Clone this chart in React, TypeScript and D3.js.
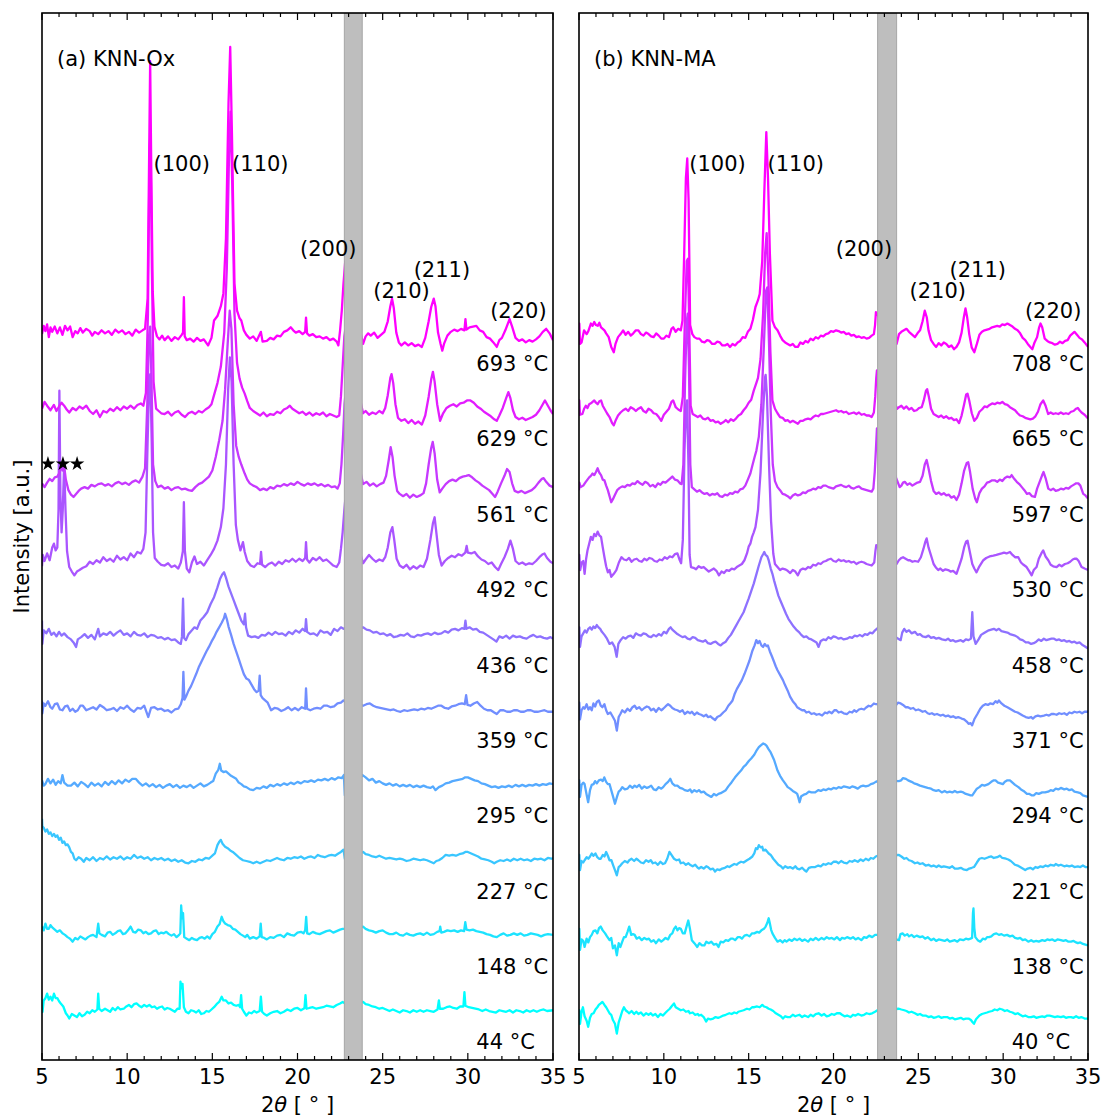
import { useEffect, useRef } from 'react';
import * as d3 from 'd3';

// temperature of each pattern, bottom to top
const tempsA = [44, 148, 227, 295, 359, 436, 492, 561, 629, 693];
const tempsB = [40, 138, 221, 294, 371, 458, 530, 597, 665, 708];

// flat [2theta, intensity] pairs; intensity in 1/100 of the stacking offset
const a44 = [5.0,0, 5.03,-6, 5.1,9, 5.2,12, 5.3,18, 5.4,10, 5.5,14, 5.6,9, 5.7,18, 5.8,12, 5.9,12, 6.0,8, 6.1,5, 6.25,1, 6.4,-8, 6.5,-11, 6.6,-15, 6.75,-9, 6.9,-11, 7.05,-13, 7.2,-8, 7.35,-12, 7.5,-10, 7.65,-6, 7.8,-8, 7.95,-4, 8.1,-6, 8.25,-3, 8.3,18, 8.36,-2, 8.5,-5, 8.7,-2, 8.85,-4, 9.0,-6, 9.15,-1, 9.3,-4, 9.45,0, 9.6,-3, 9.8,-2, 9.95,1, 10.1,3, 10.25,0, 10.4,4, 10.55,5, 10.7,2, 10.85,0, 11.0,3, 11.15,1, 11.3,3, 11.45,0, 11.6,1, 11.75,-2, 11.9,0, 12.05,1, 12.2,-3, 12.35,-1, 12.5,-2, 12.65,-4, 12.8,-6, 12.95,-2, 13.08,-2, 13.13,34, 13.2,25, 13.25,31, 13.33,0, 13.45,-6, 13.6,-8, 13.75,-4, 13.9,-5, 14.05,-7, 14.2,-4, 14.35,-9, 14.5,-8, 14.65,-5, 14.8,-6, 14.95,-3, 15.1,0, 15.25,4, 15.4,7, 15.55,14, 15.65,9, 15.8,9, 15.95,5, 16.1,6, 16.25,3, 16.4,2, 16.55,3, 16.63,0, 16.69,16, 16.75,-2, 16.85,-6, 17.0,-11, 17.15,-7, 17.3,-8, 17.45,-5, 17.6,-7, 17.78,-5, 17.85,14, 17.92,-6, 18.05,-9, 18.2,-11, 18.4,-8, 18.6,-6, 18.8,-5, 19.0,-8, 19.2,-6, 19.4,-3, 19.6,-5, 19.8,-2, 20.0,-1, 20.2,-4, 20.35,-2, 20.41,-1, 20.47,16, 20.53,-2, 20.7,-1, 20.9,0, 21.1,-2, 21.3,-1, 21.5,0, 21.7,2, 21.9,1, 22.1,0, 22.3,3, 22.5,5, 22.65,7, 22.8,5,
  23.85,7, 24.0,4, 24.2,3, 24.4,1, 24.6,0, 24.8,-2, 25.0,-1, 25.2,-3, 25.4,-5, 25.6,-3, 25.8,-5, 26.0,-7, 26.2,-4, 26.4,-5, 26.6,-7, 26.8,-4, 27.0,-6, 27.2,-4, 27.4,-6, 27.6,-4, 27.8,-5, 28.0,-6, 28.22,-3, 28.3,9, 28.36,-2, 28.55,-2, 28.75,0, 28.95,1, 29.15,-1, 29.35,-2, 29.55,1, 29.74,1, 29.8,20, 29.86,2, 30.05,0, 30.25,-1, 30.45,-2, 30.65,-3, 30.85,-5, 31.05,-3, 31.25,-5, 31.45,-6, 31.65,-7, 31.85,-4, 32.05,-5, 32.25,-6, 32.45,-4, 32.65,-7, 32.85,-4, 33.05,-5, 33.25,-7, 33.45,-4, 33.65,-6, 33.85,-4, 34.05,-6, 34.25,-4, 34.45,-3, 34.65,-5, 35.0,-4];
const a148 = [5.0,7, 5.1,2, 5.2,11, 5.3,4, 5.4,4, 5.5,9, 5.6,6, 5.75,3, 5.9,0, 6.05,2, 6.2,-2, 6.35,-4, 6.5,-7, 6.65,-9, 6.8,-13, 6.95,-8, 7.1,-10, 7.25,-6, 7.4,-8, 7.55,-10, 7.7,-7, 7.85,-5, 8.0,-4, 8.2,-7, 8.3,11, 8.37,-2, 8.5,-4, 8.7,-6, 8.85,-1, 9.0,0, 9.15,-4, 9.3,-2, 9.45,1, 9.6,2, 9.75,-3, 9.9,-2, 10.05,2, 10.2,7, 10.35,0, 10.5,-1, 10.65,3, 10.8,2, 10.95,-2, 11.1,0, 11.25,-3, 11.4,-2, 11.55,1, 11.7,2, 11.85,-3, 12.0,-1, 12.15,-2, 12.3,0, 12.45,-3, 12.6,-5, 12.75,-3, 12.9,-7, 13.05,-4, 13.12,-2, 13.17,35, 13.22,18, 13.28,25, 13.35,-7, 13.5,-9, 13.65,-11, 13.8,-8, 13.95,-10, 14.1,-11, 14.25,-8, 14.4,-7, 14.55,-9, 14.7,-6, 14.85,-9, 15.0,-3, 15.15,0, 15.3,7, 15.42,10, 15.55,20, 15.65,14, 15.75,11, 15.9,9, 16.05,8, 16.2,4, 16.35,3, 16.5,0, 16.65,-3, 16.8,-5, 16.93,-7, 17.05,-4, 17.2,-9, 17.4,-7, 17.6,-9, 17.78,-6, 17.84,11, 17.9,-7, 18.05,-8, 18.2,-10, 18.4,-7, 18.6,-8, 18.8,-5, 19.0,-4, 19.2,-7, 19.4,-2, 19.6,-4, 19.8,-5, 20.0,-1, 20.2,0, 20.35,-2, 20.45,2, 20.51,20, 20.57,-2, 20.7,-3, 20.9,0, 21.1,-2, 21.3,-3, 21.5,-1, 21.7,1, 21.9,2, 22.1,-1, 22.3,1, 22.5,3, 22.65,4, 22.8,4,
  23.85,7, 24.0,4, 24.2,2, 24.4,1, 24.6,-1, 24.8,1, 25.0,2, 25.2,-1, 25.4,-3, 25.6,-3, 25.8,-1, 26.0,-4, 26.2,-5, 26.4,-2, 26.6,-4, 26.8,-5, 27.0,-3, 27.2,-2, 27.4,-4, 27.6,-1, 27.8,-4, 28.0,-3, 28.2,0, 28.34,1, 28.38,7, 28.44,-1, 28.6,0, 28.8,2, 29.0,1, 29.2,2, 29.4,0, 29.6,2, 29.78,1, 29.85,13, 29.92,3, 30.1,2, 30.3,3, 30.5,1, 30.7,0, 30.9,-1, 31.1,-3, 31.3,-4, 31.5,-6, 31.7,-7, 31.9,-4, 32.1,-2, 32.3,-5, 32.5,-4, 32.7,-2, 32.9,-4, 33.1,-2, 33.3,-5, 33.5,-4, 33.7,-2, 33.9,-3, 34.1,-4, 34.3,-6, 34.5,-4, 34.7,-3, 35.0,-4];
const a227 = [5.0,50, 5.02,40, 5.1,38, 5.2,33, 5.3,36, 5.4,30, 5.5,32, 5.6,27, 5.7,30, 5.8,26, 5.9,28, 6.0,22, 6.1,25, 6.2,18, 6.3,20, 6.4,15, 6.5,16, 6.6,12, 6.7,6, 6.8,4, 6.9,-3, 7.0,-5, 7.15,-1, 7.3,-3, 7.45,-7, 7.6,-2, 7.8,-5, 8.0,-1, 8.2,-6, 8.4,-2, 8.6,-4, 8.8,0, 9.0,-4, 9.2,-1, 9.4,-3, 9.6,0, 9.8,-4, 10.0,-1, 10.2,-3, 10.4,2, 10.6,-2, 10.8,0, 11.0,-3, 11.2,-1, 11.4,-5, 11.6,-2, 11.8,-4, 12.0,-2, 12.2,-5, 12.4,-3, 12.6,-6, 12.8,-4, 13.0,-7, 13.2,-5, 13.4,-8, 13.6,-9, 13.8,-6, 14.0,-7, 14.2,-4, 14.4,-5, 14.6,-2, 14.8,-3, 15.0,1, 15.15,4, 15.3,15, 15.42,20, 15.5,22, 15.6,17, 15.75,13, 15.9,11, 16.05,8, 16.2,6, 16.4,2, 16.6,-2, 16.8,-5, 17.0,-6, 17.2,-7, 17.4,-9, 17.6,-7, 17.8,-9, 18.0,-7, 18.2,-5, 18.4,-6, 18.6,-4, 18.8,-2, 19.0,-4, 19.2,-5, 19.4,-2, 19.6,-3, 19.8,-1, 20.0,-2, 20.2,0, 20.4,-3, 20.6,-1, 20.8,0, 21.0,-2, 21.2,2, 21.4,0, 21.6,-1, 21.8,1, 22.0,2, 22.2,1, 22.4,4, 22.55,6, 22.7,9, 22.78,-3,
  23.85,6, 24.0,3, 24.2,2, 24.4,0, 24.6,-1, 24.8,1, 25.0,-1, 25.2,-3, 25.4,-2, 25.6,-3, 25.8,-4, 26.0,-3, 26.2,-4, 26.4,-6, 26.6,-5, 26.8,-3, 27.0,-4, 27.2,-5, 27.4,-4, 27.6,-5, 27.8,-7, 28.0,-9, 28.15,-6, 28.3,-5, 28.5,-2, 28.7,2, 28.9,1, 29.1,2, 29.3,1, 29.5,3, 29.7,4, 29.85,6, 30.0,6, 30.2,4, 30.4,2, 30.6,0, 30.8,-3, 31.0,-4, 31.2,-5, 31.4,-7, 31.55,-9, 31.7,-7, 31.9,-5, 32.1,-6, 32.3,-4, 32.5,-6, 32.7,-3, 32.9,-5, 33.1,-3, 33.3,-5, 33.5,-4, 33.7,-6, 33.9,-3, 34.1,-4, 34.3,-3, 34.5,-5, 34.7,-2, 34.9,-3, 35.0,-2];
const a295 = [5.0,1, 5.1,-6, 5.2,-4, 5.35,3, 5.5,-3, 5.65,2, 5.8,-5, 5.95,0, 6.1,-3, 6.2,8, 6.3,-2, 6.5,-6, 6.7,-6, 6.9,-2, 7.1,-7, 7.3,-1, 7.5,-4, 7.7,-8, 7.9,-2, 8.1,-6, 8.3,-3, 8.5,-7, 8.7,-1, 8.9,-5, 9.1,0, 9.3,-4, 9.5,1, 9.7,-3, 9.9,2, 10.1,-1, 10.3,3, 10.5,3, 10.7,-2, 10.9,-6, 11.1,-3, 11.3,-7, 11.5,-4, 11.7,-8, 11.9,-5, 12.1,-9, 12.3,-6, 12.5,-4, 12.7,-8, 12.9,-5, 13.1,-9, 13.3,-6, 13.5,-8, 13.7,-5, 13.9,-9, 14.1,-6, 14.3,-3, 14.5,-7, 14.7,-5, 14.9,-2, 15.05,0, 15.2,10, 15.35,15, 15.44,23, 15.52,14, 15.65,12, 15.8,13, 15.95,10, 16.1,7, 16.25,5, 16.4,3, 16.55,-2, 16.7,-4, 16.85,-7, 17.0,-8, 17.2,-11, 17.4,-12, 17.6,-9, 17.8,-10, 18.0,-7, 18.2,-9, 18.4,-5, 18.6,-7, 18.8,-4, 19.0,-6, 19.2,-3, 19.4,-5, 19.6,-2, 19.8,-4, 20.0,-1, 20.2,-3, 20.4,0, 20.6,-1, 20.8,1, 21.0,-1, 21.2,2, 21.4,1, 21.6,3, 21.8,1, 22.0,4, 22.2,2, 22.4,5, 22.6,4, 22.72,8, 22.78,-19,
  23.82,8, 24.0,5, 24.2,1, 24.4,3, 24.6,-2, 24.8,0, 25.0,-3, 25.2,-5, 25.4,-3, 25.6,-6, 25.8,-4, 26.0,-7, 26.2,-5, 26.4,-7, 26.6,-5, 26.8,-8, 27.0,-6, 27.2,-8, 27.4,-6, 27.6,-8, 27.8,-9, 27.95,-7, 28.1,-12, 28.3,-8, 28.5,-6, 28.7,-3, 28.9,-2, 29.1,0, 29.3,1, 29.5,2, 29.7,3, 29.85,5, 30.0,5, 30.2,3, 30.4,1, 30.6,0, 30.8,-3, 31.0,-4, 31.2,-6, 31.4,-8, 31.6,-7, 31.8,-9, 32.0,-7, 32.2,-8, 32.4,-6, 32.6,-8, 32.8,-5, 33.0,-7, 33.2,-5, 33.4,-7, 33.6,-5, 33.8,-6, 34.0,-4, 34.2,-6, 34.4,-4, 34.6,-5, 34.8,-3, 35.0,-4];
const a359 = [5.0,7, 5.02,-10, 5.1,3, 5.2,0, 5.35,6, 5.5,-2, 5.6,-4, 5.75,2, 5.9,3, 6.05,-5, 6.2,-6, 6.35,-1, 6.5,0, 6.65,-7, 6.8,-4, 6.95,-8, 7.1,-6, 7.25,0, 7.4,0, 7.6,-6, 7.8,-4, 8.0,-2, 8.2,-5, 8.4,1, 8.6,-2, 8.8,-6, 9.0,-5, 9.2,-3, 9.4,-7, 9.6,-2, 9.8,-4, 10.0,0, 10.2,-5, 10.4,-8, 10.6,-3, 10.8,-4, 11.0,0, 11.24,-15, 11.4,-3, 11.6,-2, 11.8,-5, 12.0,-4, 12.2,-7, 12.4,-6, 12.6,-9, 12.8,-5, 13.0,-4, 13.15,2, 13.25,10, 13.3,45, 13.36,8, 13.45,12, 13.6,20, 13.75,26, 13.9,34, 14.05,42, 14.2,51, 14.35,58, 14.5,65, 14.65,72, 14.8,78, 14.95,85, 15.1,91, 15.25,98, 15.4,104, 15.55,110, 15.68,116, 15.75,122, 15.85,115, 15.95,105, 16.1,94, 16.25,82, 16.4,72, 16.55,62, 16.7,52, 16.85,42, 17.0,36, 17.15,34, 17.3,28, 17.45,22, 17.6,18, 17.72,20, 17.78,40, 17.84,14, 17.95,10, 18.1,7, 18.25,4, 18.45,-6, 18.65,-3, 18.85,-4, 19.05,-7, 19.25,-5, 19.45,-2, 19.65,-6, 19.85,-3, 20.05,-6, 20.25,-2, 20.45,-4, 20.5,23, 20.56,-4, 20.75,-6, 20.95,-4, 21.15,-3, 21.35,-4, 21.55,0, 21.75,0, 21.95,-2, 22.15,-1, 22.35,3, 22.55,4, 22.7,7, 22.8,5,
  23.85,0, 24.05,2, 24.25,3, 24.45,0, 24.65,-2, 24.85,-3, 25.05,-4, 25.25,-5, 25.45,-6, 25.65,-5, 25.85,-7, 26.05,-8, 26.25,-6, 26.45,-7, 26.65,-6, 26.85,-5, 27.05,-6, 27.25,-4, 27.45,-5, 27.65,-3, 27.85,-4, 28.05,-2, 28.25,0, 28.45,0, 28.65,-3, 28.85,-4, 29.05,-1, 29.25,0, 29.45,2, 29.65,3, 29.82,2, 29.9,14, 29.98,1, 30.15,0, 30.35,3, 30.55,5, 30.75,0, 30.95,-4, 31.15,-6, 31.35,-6, 31.55,-9, 31.7,-11, 31.9,-6, 32.1,-6, 32.3,-8, 32.5,-8, 32.7,-6, 32.9,-6, 33.1,-8, 33.3,-8, 33.5,-6, 33.7,-6, 33.9,-8, 34.1,-8, 34.3,-7, 34.5,-6, 34.7,-8, 35.0,-8];
const a436 = [5.0,13, 5.02,-18, 5.1,0, 5.25,-4, 5.4,2, 5.55,-6, 5.7,-3, 5.85,-8, 6.0,-2, 6.15,-7, 6.3,-4, 6.5,-9, 6.7,-12, 6.85,-16, 7.0,-22, 7.1,-12, 7.3,-9, 7.5,-5, 7.7,-10, 7.9,-6, 8.1,-12, 8.3,2, 8.4,-8, 8.6,-4, 8.8,-6, 9.0,-2, 9.2,-7, 9.4,-3, 9.6,0, 9.8,-6, 10.0,-4, 10.2,-8, 10.4,-2, 10.6,-6, 10.8,-7, 11.0,-4, 11.2,-9, 11.4,-6, 11.6,-7, 11.8,-10, 12.0,-9, 12.2,-12, 12.4,-10, 12.6,-13, 12.8,-12, 13.0,-16, 13.15,-18, 13.22,-8, 13.28,42, 13.34,-10, 13.45,-13, 13.6,-5, 13.8,0, 13.95,4, 14.1,2, 14.3,13, 14.5,18, 14.7,24, 14.9,35, 15.1,44, 15.3,57, 15.45,68, 15.58,74, 15.69,77, 15.8,70, 15.95,58, 16.1,49, 16.25,40, 16.4,31, 16.55,22, 16.7,13, 16.85,8, 16.92,22, 16.98,4, 17.1,-7, 17.3,-9, 17.5,-8, 17.7,-10, 17.9,-6, 18.1,-7, 18.3,-3, 18.5,-6, 18.7,-2, 18.9,-5, 19.1,-4, 19.3,-7, 19.5,-2, 19.7,-5, 19.9,0, 20.1,-3, 20.3,2, 20.45,-1, 20.5,15, 20.56,-2, 20.75,-5, 20.95,-4, 21.15,-7, 21.35,0, 21.55,-3, 21.75,-2, 21.95,-6, 22.15,2, 22.35,-1, 22.55,4, 22.7,2, 22.8,3,
  23.85,4, 24.05,1, 24.25,0, 24.45,-3, 24.65,-2, 24.85,-5, 25.05,-4, 25.25,-7, 25.45,-5, 25.65,-9, 25.85,-8, 26.05,-6, 26.25,-7, 26.45,-4, 26.65,-8, 26.85,-9, 27.05,-6, 27.25,-7, 27.45,-5, 27.65,-4, 27.85,-6, 28.05,-3, 28.25,-5, 28.45,-4, 28.65,-1, 28.85,-3, 29.05,1, 29.25,2, 29.45,0, 29.65,3, 29.8,2, 29.86,13, 29.92,2, 30.1,4, 30.3,1, 30.5,2, 30.7,-2, 30.9,-3, 31.1,-6, 31.3,-9, 31.5,-12, 31.68,-15, 31.85,-8, 32.05,-10, 32.25,-7, 32.45,-11, 32.65,-7, 32.85,-9, 33.05,-8, 33.25,-10, 33.45,-11, 33.65,-8, 33.85,-6, 34.05,-9, 34.25,-8, 34.45,-10, 34.65,-11, 34.85,-9, 35.0,-11];
const a492 = [5.0,-15, 5.05,0, 5.15,-8, 5.3,2, 5.45,-7, 5.6,10, 5.7,15, 5.8,6, 5.9,10, 5.97,60, 6.02,218, 6.08,80, 6.15,30, 6.22,60, 6.3,121, 6.38,60, 6.47,5, 6.6,-16, 6.75,-22, 6.9,-27, 7.05,-22, 7.2,-20, 7.4,-17, 7.6,-15, 7.8,-9, 8.0,-12, 8.2,-7, 8.4,-10, 8.6,-3, 8.8,-8, 9.0,-5, 9.2,-9, 9.4,-1, 9.6,-6, 9.8,-3, 10.0,-7, 10.2,2, 10.4,-3, 10.6,4, 10.8,2, 10.95,8, 11.08,30, 11.2,150, 11.3,235, 11.36,240, 11.44,150, 11.52,30, 11.62,-4, 11.8,-9, 12.0,-13, 12.2,-14, 12.4,-11, 12.6,-16, 12.8,-14, 13.0,-18, 13.15,-10, 13.27,5, 13.33,70, 13.39,5, 13.5,-18, 13.65,-23, 13.8,-10, 13.95,-2, 14.1,-12, 14.3,-9, 14.5,-14, 14.7,-7, 14.9,0, 15.1,8, 15.3,19, 15.5,37, 15.65,62, 15.8,120, 15.93,220, 16.03,262, 16.13,230, 16.25,120, 16.38,40, 16.5,20, 16.65,6, 16.8,17, 16.9,4, 17.05,-8, 17.25,-14, 17.45,-16, 17.65,-11, 17.8,-12, 17.86,4, 17.92,-13, 18.1,-16, 18.3,-12, 18.5,-10, 18.7,-14, 18.9,-9, 19.1,-12, 19.3,-7, 19.5,-9, 19.7,-5, 19.9,-9, 20.1,-5, 20.3,-8, 20.45,-4, 20.5,17, 20.56,-6, 20.7,-10, 20.9,-4, 21.1,-7, 21.3,-3, 21.5,-8, 21.7,-6, 21.9,-10, 22.1,-14, 22.3,-16, 22.45,-10, 22.55,8, 22.65,30, 22.75,60, 22.8,72,
  23.85,-11, 24.0,-6, 24.2,0, 24.4,-5, 24.6,-9, 24.8,-6, 25.0,-8, 25.15,-3, 25.3,10, 25.45,30, 25.57,37, 25.68,20, 25.82,-5, 26.0,-14, 26.2,-17, 26.4,-13, 26.6,-19, 26.8,-15, 27.0,-18, 27.2,-14, 27.4,-16, 27.6,-5, 27.8,20, 27.95,42, 28.05,50, 28.15,30, 28.3,0, 28.46,-14, 28.65,-8, 28.85,-4, 29.05,-1, 29.25,-3, 29.45,1, 29.65,-1, 29.85,3, 29.93,12, 30.0,3, 30.2,2, 30.4,4, 30.6,-2, 30.8,-6, 31.0,-8, 31.2,-12, 31.4,-10, 31.6,-16, 31.79,-20, 31.95,-12, 32.15,-3, 32.35,8, 32.5,19, 32.65,8, 32.8,-8, 33.0,-12, 33.2,-10, 33.4,-13, 33.6,-11, 33.8,-12, 34.0,-8, 34.2,-3, 34.4,1, 34.5,2, 34.65,-4, 34.85,-9, 35.0,-11];
const a561 = [5.0,-5, 5.15,-10, 5.3,-4, 5.45,1, 5.6,-2, 5.75,3, 5.9,4, 6.0,8, 6.1,18, 6.2,12, 6.3,18, 6.4,0, 6.55,-14, 6.7,-20, 6.85,-23, 7.0,-19, 7.15,-15, 7.3,-12, 7.5,-10, 7.7,-12, 7.9,-7, 8.1,-9, 8.3,-6, 8.5,-5, 8.7,-8, 8.9,-6, 9.1,-9, 9.3,-5, 9.5,-3, 9.7,-6, 9.9,-4, 10.1,-7, 10.3,-3, 10.5,-1, 10.7,-4, 10.9,4, 11.05,15, 11.18,100, 11.28,190, 11.35,203, 11.43,130, 11.52,20, 11.65,-2, 11.8,-10, 12.0,-8, 12.2,-12, 12.4,-10, 12.6,-14, 12.8,-11, 13.0,-10, 13.2,-13, 13.4,-12, 13.6,-14, 13.8,-15, 14.0,-10, 14.2,-6, 14.4,-4, 14.6,0, 14.8,4, 15.0,12, 15.2,30, 15.4,52, 15.6,78, 15.75,120, 15.9,180, 16.02,224, 16.12,200, 16.25,100, 16.4,45, 16.55,30, 16.7,20, 16.9,8, 17.05,0, 17.2,-5, 17.4,-8, 17.6,-10, 17.8,-14, 18.0,-12, 18.2,-14, 18.4,-10, 18.6,-12, 18.8,-8, 19.0,-9, 19.2,-6, 19.4,-8, 19.6,-5, 19.8,-7, 20.0,-3, 20.2,-6, 20.4,-8, 20.6,-5, 20.8,-7, 21.0,-5, 21.2,-8, 21.4,-6, 21.6,-9, 21.8,-7, 22.0,-10, 22.2,-9, 22.35,-12, 22.48,-5, 22.58,20, 22.68,60, 22.76,100, 22.8,109,
  23.85,-6, 24.05,-3, 24.25,-8, 24.45,-5, 24.65,-9, 24.85,-6, 25.05,-4, 25.2,5, 25.35,25, 25.47,43, 25.58,30, 25.7,5, 25.85,-15, 26.0,-19, 26.2,-22, 26.4,-19, 26.6,-24, 26.8,-20, 27.0,-23, 27.2,-21, 27.4,-18, 27.55,-5, 27.7,20, 27.85,42, 27.94,50, 28.05,35, 28.2,0, 28.35,-17, 28.5,-12, 28.7,-6, 28.9,-2, 29.1,0, 29.3,-2, 29.5,2, 29.7,4, 29.9,5, 30.05,6, 30.25,3, 30.45,-1, 30.65,-4, 30.85,-8, 31.05,-11, 31.25,-14, 31.45,-19, 31.6,-23, 31.75,-16, 31.95,-5, 32.15,5, 32.3,14, 32.45,10, 32.6,-5, 32.75,-15, 32.95,-17, 33.15,-15, 33.35,-18, 33.55,-16, 33.75,-14, 33.95,-10, 34.15,-4, 34.35,1, 34.45,2, 34.6,-3, 34.8,-8, 35.0,-10];
const a629 = [5.0,-6, 5.15,3, 5.3,-2, 5.5,-8, 5.7,-1, 5.85,-9, 6.0,-3, 6.15,2, 6.3,-2, 6.45,-7, 6.6,-11, 6.8,-5, 7.0,-8, 7.2,-3, 7.4,-6, 7.6,-2, 7.8,-9, 8.0,-13, 8.2,-8, 8.4,-17, 8.6,-9, 8.8,-11, 9.0,-6, 9.2,-9, 9.4,-4, 9.6,-8, 9.8,-3, 10.0,-6, 10.2,-2, 10.4,-6, 10.6,-1, 10.8,1, 10.95,-2, 11.1,15, 11.22,120, 11.32,340, 11.37,360, 11.45,180, 11.55,30, 11.7,-6, 11.85,-9, 12.0,-12, 12.2,-13, 12.4,-10, 12.6,-15, 12.8,-11, 13.0,-9, 13.2,-14, 13.4,-17, 13.6,-12, 13.8,-10, 14.0,-13, 14.2,-9, 14.4,-11, 14.6,-7, 14.8,-4, 14.95,0, 15.1,12, 15.3,28, 15.5,50, 15.7,95, 15.85,180, 15.98,330, 16.07,388, 16.17,290, 16.3,120, 16.45,55, 16.6,34, 16.75,22, 16.9,14, 17.05,4, 17.2,-5, 17.4,-9, 17.6,-12, 17.8,-15, 18.0,-11, 18.2,-16, 18.4,-13, 18.6,-14, 18.8,-10, 19.0,-12, 19.2,-7, 19.4,-5, 19.55,-2, 19.7,-6, 19.9,-9, 20.1,-12, 20.3,-10, 20.5,-14, 20.7,-11, 20.9,-15, 21.1,-12, 21.3,-14, 21.5,-11, 21.7,-16, 21.9,-13, 22.1,-15, 22.3,-17, 22.45,-15, 22.55,10, 22.65,50, 22.75,90, 22.8,98,
  23.85,-12, 24.0,-9, 24.2,-14, 24.4,-11, 24.6,-13, 24.8,-9, 25.0,-12, 25.15,-5, 25.3,12, 25.45,35, 25.52,40, 25.62,28, 25.75,0, 25.9,-18, 26.1,-22, 26.3,-20, 26.5,-25, 26.7,-21, 26.9,-26, 27.1,-23, 27.3,-27, 27.5,-15, 27.7,10, 27.85,33, 27.95,43, 28.05,30, 28.2,0, 28.37,-22, 28.55,-12, 28.75,-5, 28.95,-2, 29.15,0, 29.35,-3, 29.55,1, 29.75,2, 29.95,5, 30.15,5, 30.35,2, 30.55,-3, 30.75,-6, 30.95,-10, 31.15,-13, 31.35,-16, 31.55,-20, 31.7,-22, 31.85,-15, 32.05,-5, 32.25,8, 32.38,16, 32.5,8, 32.65,-8, 32.8,-17, 33.0,-20, 33.2,-18, 33.4,-21, 33.6,-19, 33.8,-17, 34.0,-14, 34.2,-8, 34.4,0, 34.53,5, 34.7,-2, 34.85,-8, 35.0,-13];
const a693 = [5.0,-7, 5.1,4, 5.2,-3, 5.3,6, 5.4,-11, 5.5,2, 5.6,-4, 5.75,3, 5.9,-6, 6.05,2, 6.2,-8, 6.35,4, 6.5,-2, 6.65,3, 6.8,-11, 6.95,-3, 7.1,-6, 7.25,1, 7.4,-5, 7.6,0, 7.8,-3, 7.95,-9, 8.1,-4, 8.3,-7, 8.5,-2, 8.7,-6, 8.9,-3, 9.1,-8, 9.3,-1, 9.5,-5, 9.7,-2, 9.9,-7, 10.1,-4, 10.3,-9, 10.5,-1, 10.7,-5, 10.9,-2, 11.05,0, 11.2,40, 11.3,250, 11.35,355, 11.42,200, 11.5,50, 11.6,3, 11.75,-10, 11.9,-14, 12.05,-9, 12.2,-15, 12.4,-10, 12.6,-16, 12.8,-11, 13.0,-14, 13.2,-8, 13.28,-5, 13.33,42, 13.38,-10, 13.5,-15, 13.7,-13, 13.9,-17, 14.1,-12, 14.3,-16, 14.5,-14, 14.75,-22, 14.95,-12, 15.1,11, 15.3,17, 15.5,30, 15.65,47, 15.8,120, 15.95,300, 16.05,374, 16.15,260, 16.3,60, 16.45,24, 16.6,14, 16.7,11, 16.85,-2, 17.0,-8, 17.2,-13, 17.4,-10, 17.6,-16, 17.85,-4, 17.95,-17, 18.2,-16, 18.4,-12, 18.6,-14, 18.8,-9, 19.0,-10, 19.2,-4, 19.4,-2, 19.6,2, 19.75,-2, 19.9,-5, 20.1,-3, 20.3,-7, 20.45,-4, 20.5,15, 20.56,-6, 20.7,-9, 20.9,-7, 21.1,-11, 21.3,-10, 21.5,-13, 21.7,-11, 21.9,-15, 22.1,-13, 22.3,-17, 22.4,-22, 22.5,-2, 22.6,24, 22.7,60, 22.8,89,
  23.85,-20, 24.0,-10, 24.15,-6, 24.3,-9, 24.5,-5, 24.7,-12, 24.9,-8, 25.1,-4, 25.3,10, 25.45,30, 25.55,40, 25.65,28, 25.8,-5, 25.95,-18, 26.1,-22, 26.3,-18, 26.5,-22, 26.7,-19, 26.9,-23, 27.1,-21, 27.3,-24, 27.5,-12, 27.7,10, 27.85,29, 28.0,40, 28.1,30, 28.25,-5, 28.4,-20, 28.5,-29, 28.6,-20, 28.8,-9, 29.0,-4, 29.2,-1, 29.4,-3, 29.6,0, 29.8,-2, 29.86,13, 29.92,-1, 30.1,2, 30.3,3, 30.5,4, 30.7,-2, 30.9,-4, 31.1,-11, 31.3,-13, 31.5,-18, 31.7,-24, 31.85,-15, 32.0,-12, 32.2,-2, 32.45,13, 32.6,3, 32.8,-12, 33.0,-16, 33.2,-14, 33.4,-18, 33.6,-15, 33.8,-17, 34.0,-14, 34.2,-10, 34.4,-4, 34.6,0, 34.8,-6, 35.0,-15];

const b40 = [5.0,-17, 5.02,-4, 5.06,-22, 5.15,-6, 5.23,0, 5.33,-12, 5.45,-18, 5.54,-26, 5.65,-14, 5.75,-9, 5.86,-8, 5.97,-3, 6.08,0, 6.17,3, 6.28,5, 6.38,7, 6.5,3, 6.6,0, 6.7,-4, 6.8,-8, 6.9,-10, 7.0,-17, 7.12,-22, 7.23,-35, 7.34,-20, 7.44,-13, 7.55,-5, 7.65,0, 7.75,-4, 7.86,-6, 7.96,-8, 8.1,-5, 8.25,-9, 8.38,-6, 8.5,-9, 8.65,-7, 8.8,-11, 8.95,-8, 9.1,-10, 9.23,-8, 9.35,-11, 9.5,-9, 9.65,-13, 9.8,-9, 9.95,-11, 10.07,-8, 10.2,-5, 10.35,-2, 10.45,1, 10.6,5, 10.7,0, 10.85,-2, 11.0,-4, 11.15,-3, 11.3,-6, 11.45,-5, 11.54,-8, 11.7,-7, 11.85,-10, 12.0,-9, 12.07,-11, 12.2,-10, 12.35,-13, 12.49,-19, 12.6,-15, 12.75,-16, 12.91,-15, 13.05,-13, 13.2,-14, 13.33,-13, 13.5,-11, 13.65,-10, 13.86,-8, 14.0,-9, 14.15,-7, 14.3,-8, 14.39,-6, 14.55,-5, 14.7,-4, 14.9,-2, 15.05,-3, 15.2,0, 15.33,0, 15.5,1, 15.65,0, 15.8,3, 15.9,1, 16.05,0, 16.18,-2, 16.3,-3, 16.45,-5, 16.6,-8, 16.75,-10, 16.9,-12, 17.02,-15, 17.15,-12, 17.3,-13, 17.44,-13, 17.6,-10, 17.75,-12, 17.86,-11, 18.0,-10, 18.15,-13, 18.3,-11, 18.5,-13, 18.65,-10, 18.8,-12, 18.95,-9, 19.12,-8, 19.3,-11, 19.45,-9, 19.6,-12, 19.75,-11, 19.9,-9, 20.05,-10, 20.2,-8, 20.38,-8, 20.5,-10, 20.65,-12, 20.8,-11, 21.0,-13, 21.15,-10, 21.3,-11, 21.45,-9, 21.64,-11, 21.8,-10, 21.95,-8, 22.1,-9, 22.28,-8, 22.45,-6, 22.59,-4,
  23.86,-2, 24.0,-3, 24.17,-4, 24.3,-5, 24.45,-7, 24.6,-6, 24.8,-8, 24.95,-10, 25.1,-9, 25.25,-11, 25.43,-11, 25.6,-13, 25.75,-12, 25.9,-14, 26.07,-13, 26.2,-12, 26.35,-14, 26.5,-13, 26.7,-13, 26.85,-15, 27.0,-14, 27.15,-16, 27.33,-15, 27.5,-14, 27.65,-16, 27.8,-15, 27.96,-15, 28.1,-17, 28.2,-20, 28.28,-22, 28.4,-16, 28.6,-11, 28.75,-9, 28.9,-8, 29.05,-7, 29.17,-6, 29.35,-5, 29.5,-3, 29.65,-4, 29.8,-2, 29.95,-3, 30.1,-5, 30.23,-4, 30.4,-6, 30.55,-7, 30.7,-9, 30.86,-8, 31.0,-10, 31.15,-12, 31.3,-11, 31.48,-13, 31.65,-13, 31.8,-12, 31.95,-14, 32.1,-13, 32.3,-12, 32.45,-13, 32.6,-11, 32.74,-11, 32.9,-12, 33.05,-13, 33.2,-12, 33.4,-13, 33.55,-12, 33.7,-14, 33.85,-13, 34.0,-13, 34.15,-14, 34.3,-12, 34.45,-14, 34.6,-13, 34.8,-15, 35.0,-15];
const b138 = [5.0,-2, 5.02,4, 5.06,-24, 5.15,-10, 5.25,-12, 5.33,-20, 5.45,-9, 5.55,-14, 5.65,-7, 5.75,-4, 5.85,1, 5.97,2, 6.08,-2, 6.18,5, 6.28,7, 6.4,2, 6.54,-2, 6.65,-6, 6.8,-11, 6.9,-8, 7.0,-22, 7.12,-18, 7.23,-31, 7.34,-15, 7.44,-20, 7.55,-13, 7.65,-7, 7.75,-7, 7.86,0, 7.96,7, 8.08,-4, 8.18,-3, 8.28,-4, 8.4,-9, 8.55,-7, 8.7,-11, 8.85,-8, 9.0,-10, 9.12,-9, 9.25,-13, 9.4,-11, 9.54,-15, 9.7,-10, 9.85,-13, 9.96,-11, 10.1,-8, 10.25,-10, 10.38,-4, 10.5,-2, 10.6,4, 10.7,7, 10.8,2, 10.9,5, 11.0,4, 11.12,-2, 11.23,-2, 11.35,8, 11.44,15, 11.54,4, 11.65,-11, 11.8,-15, 11.97,-20, 12.1,-15, 12.25,-18, 12.39,-18, 12.5,-13, 12.65,-15, 12.8,-13, 12.95,-17, 13.1,-16, 13.22,-20, 13.35,-13, 13.5,-14, 13.65,-11, 13.8,-12, 13.95,-9, 14.07,-9, 14.2,-11, 14.35,-7, 14.49,-7, 14.6,-9, 14.75,-5, 14.9,-4, 15.05,-6, 15.2,-2, 15.33,-2, 15.5,0, 15.62,-1, 15.75,2, 15.9,4, 16.0,7, 16.1,12, 16.18,18, 16.25,11, 16.32,3, 16.4,-2, 16.55,-8, 16.7,-13, 16.85,-11, 17.0,-14, 17.12,-11, 17.23,-13, 17.4,-10, 17.55,-12, 17.7,-9, 17.86,-11, 18.0,-9, 18.15,-12, 18.3,-10, 18.5,-13, 18.65,-9, 18.8,-11, 18.95,-8, 19.12,-11, 19.3,-8, 19.45,-10, 19.6,-7, 19.75,-9, 19.9,-8, 20.05,-10, 20.2,-7, 20.38,-11, 20.5,-8, 20.65,-9, 20.8,-7, 21.0,-9, 21.15,-7, 21.3,-10, 21.45,-8, 21.64,-11, 21.8,-7, 21.95,-8, 22.1,-5, 22.28,-7, 22.45,-4, 22.59,-4,
  23.86,-11, 23.95,-3, 24.07,-2, 24.2,-5, 24.35,-3, 24.45,-6, 24.6,-4, 24.75,-7, 24.9,-5, 25.1,-7, 25.25,-6, 25.4,-9, 25.55,-7, 25.75,-11, 25.9,-9, 26.05,-12, 26.2,-10, 26.38,-11, 26.55,-12, 26.7,-10, 26.85,-13, 27.0,-12, 27.15,-11, 27.3,-13, 27.45,-10, 27.65,-11, 27.8,-9, 27.95,-10, 28.07,-9, 28.17,-8, 28.22,25, 28.25,31, 28.3,5, 28.36,-7, 28.5,-11, 28.65,-13, 28.8,-9, 28.95,-10, 29.05,-7, 29.17,-7, 29.3,-6, 29.45,-3, 29.6,-2, 29.75,-4, 29.9,-3, 30.05,-5, 30.23,-4, 30.4,-6, 30.55,-5, 30.7,-8, 30.86,-9, 31.0,-8, 31.15,-11, 31.3,-10, 31.48,-13, 31.65,-11, 31.8,-13, 31.95,-12, 32.1,-13, 32.3,-11, 32.45,-12, 32.6,-10, 32.74,-11, 32.9,-10, 33.05,-12, 33.2,-10, 33.4,-11, 33.55,-12, 33.7,-11, 33.85,-13, 34.0,-13, 34.15,-12, 34.3,-14, 34.4,-15, 34.55,-14, 34.7,-16, 34.85,-17, 35.0,-18];
const b221 = [5.0,-14, 5.02,2, 5.06,-18, 5.15,-6, 5.25,-8, 5.33,-5, 5.45,-1, 5.55,-3, 5.65,0, 5.75,4, 5.85,1, 5.97,4, 6.08,-1, 6.18,-3, 6.28,-3, 6.4,2, 6.5,0, 6.6,6, 6.7,1, 6.8,-5, 6.91,-5, 7.02,-12, 7.12,-18, 7.23,-25, 7.34,-14, 7.44,-12, 7.55,-9, 7.7,-6, 7.86,-8, 7.96,-5, 8.1,-3, 8.25,-6, 8.38,-3, 8.5,-5, 8.65,-8, 8.8,-9, 8.95,-5, 9.1,-7, 9.23,-5, 9.35,-9, 9.5,-8, 9.65,-11, 9.8,-7, 9.95,-10, 10.07,-9, 10.2,-3, 10.33,6, 10.45,2, 10.6,-3, 10.75,-5, 10.9,-4, 11.0,-9, 11.15,-8, 11.3,-11, 11.45,-9, 11.54,-11, 11.7,-13, 11.85,-11, 12.0,-15, 12.07,-16, 12.2,-14, 12.35,-16, 12.5,-13, 12.6,-14, 12.75,-17, 12.9,-16, 13.02,-20, 13.15,-17, 13.3,-18, 13.44,-16, 13.6,-15, 13.75,-13, 13.86,-14, 14.0,-12, 14.15,-10, 14.3,-11, 14.39,-9, 14.55,-7, 14.7,-8, 14.9,-5, 15.05,-3, 15.22,0, 15.33,4, 15.43,11, 15.52,10, 15.6,15, 15.7,12, 15.8,13, 15.86,8, 16.0,9, 16.18,4, 16.3,2, 16.45,-3, 16.6,-7, 16.75,-11, 16.9,-13, 17.02,-16, 17.15,-13, 17.3,-15, 17.44,-14, 17.6,-16, 17.75,-13, 17.86,-16, 18.0,-17, 18.15,-15, 18.28,-18, 18.4,-20, 18.55,-15, 18.7,-14, 18.92,-14, 19.1,-12, 19.25,-13, 19.4,-10, 19.54,-11, 19.7,-9, 19.85,-10, 20.0,-7, 20.17,-7, 20.3,-9, 20.45,-6, 20.6,-8, 20.8,-9, 20.95,-6, 21.1,-7, 21.25,-5, 21.43,-7, 21.6,-4, 21.75,-6, 21.9,-3, 22.07,-5, 22.2,-2, 22.35,-3, 22.49,0, 22.6,1,
  23.86,2, 24.0,0, 24.17,-3, 24.3,-2, 24.45,-5, 24.6,-6, 24.8,-9, 24.95,-8, 25.1,-10, 25.25,-9, 25.43,-12, 25.6,-11, 25.75,-13, 25.9,-12, 26.07,-14, 26.2,-12, 26.35,-14, 26.5,-13, 26.7,-14, 26.85,-15, 27.0,-13, 27.15,-16, 27.33,-16, 27.5,-15, 27.65,-17, 27.86,-18, 28.0,-16, 28.15,-15, 28.28,-14, 28.45,-8, 28.6,-3, 28.75,-2, 28.9,-3, 29.13,-1, 29.3,0, 29.45,-2, 29.65,-1, 29.8,1, 29.95,-2, 30.17,-3, 30.3,-4, 30.45,-6, 30.55,-8, 30.7,-11, 30.85,-12, 31.0,-14, 31.15,-16, 31.3,-18, 31.45,-16, 31.6,-15, 31.75,-17, 31.9,-14, 32.05,-15, 32.2,-13, 32.35,-14, 32.5,-12, 32.65,-13, 32.8,-11, 33.0,-12, 33.1,-10, 33.25,-12, 33.4,-11, 33.6,-13, 33.75,-12, 33.9,-13, 34.05,-12, 34.2,-14, 34.4,-13, 34.55,-14, 34.7,-12, 34.85,-14, 35.0,-14];
const b294 = [5.0,-12, 5.02,1, 5.06,-21, 5.15,-5, 5.25,-2, 5.33,-4, 5.45,-18, 5.54,-28, 5.65,-12, 5.75,-5, 5.86,-4, 5.95,0, 6.05,-3, 6.17,1, 6.3,2, 6.4,0, 6.49,5, 6.6,-1, 6.7,-4, 6.8,-4, 6.9,-12, 7.0,-20, 7.12,-30, 7.25,-20, 7.34,-14, 7.44,-12, 7.55,-8, 7.7,-11, 7.86,-10, 8.0,-6, 8.15,-9, 8.28,-6, 8.4,-8, 8.55,-5, 8.7,-10, 8.85,-7, 9.0,-9, 9.12,-8, 9.25,-6, 9.4,-11, 9.54,-12, 9.7,-8, 9.85,-10, 9.96,-8, 10.1,-4, 10.25,-1, 10.38,3, 10.5,-3, 10.65,-6, 10.8,-6, 10.95,-9, 11.1,-10, 11.23,-12, 11.4,-13, 11.55,-11, 11.65,-15, 11.8,-12, 11.95,-14, 12.07,-12, 12.2,-15, 12.35,-14, 12.49,-17, 12.65,-19, 12.8,-21, 12.95,-17, 13.1,-19, 13.22,-17, 13.35,-16, 13.5,-14, 13.65,-12, 13.8,-7, 13.95,-3, 14.07,1, 14.2,5, 14.39,10, 14.55,14, 14.7,19, 14.85,22, 15.02,27, 15.15,30, 15.33,35, 15.45,40, 15.6,45, 15.7,47, 15.86,50, 15.95,49, 16.05,47, 16.18,42, 16.3,38, 16.4,33, 16.5,28, 16.6,21, 16.7,14, 16.85,7, 17.02,1, 17.15,-3, 17.3,-8, 17.44,-10, 17.6,-13, 17.75,-15, 17.86,-17, 17.93,-22, 18.0,-28, 18.1,-20, 18.25,-18, 18.39,-17, 18.55,-14, 18.7,-15, 18.92,-15, 19.1,-12, 19.25,-13, 19.4,-11, 19.54,-12, 19.7,-10, 19.85,-11, 20.0,-9, 20.17,-10, 20.3,-8, 20.45,-9, 20.6,-7, 20.8,-8, 20.95,-9, 21.1,-7, 21.25,-8, 21.43,-10, 21.6,-7, 21.75,-6, 21.9,-7, 22.07,-6, 22.2,-4, 22.35,-3, 22.49,-1, 22.6,0, 22.8,1,
  23.85,0, 23.99,1, 24.1,4, 24.27,3, 24.4,1, 24.6,-1, 24.75,-3, 24.9,-4, 25.1,-6, 25.25,-7, 25.4,-8, 25.55,-9, 25.75,-10, 25.9,-12, 26.05,-13, 26.2,-12, 26.38,-15, 26.55,-13, 26.7,-15, 26.85,-14, 27.0,-15, 27.15,-13, 27.3,-15, 27.5,-14, 27.65,-15, 27.8,-17, 27.95,-18, 28.08,-19, 28.18,-19, 28.3,-15, 28.45,-10, 28.6,-8, 28.75,-5, 28.9,-6, 29.13,-4, 29.3,-1, 29.45,1, 29.55,1, 29.7,-2, 29.85,-3, 29.98,-4, 30.1,-1, 30.25,1, 30.4,1, 30.55,-2, 30.7,-5, 30.9,-8, 31.05,-11, 31.2,-13, 31.4,-17, 31.55,-17, 31.7,-19, 31.8,-19, 31.95,-16, 32.1,-17, 32.3,-15, 32.47,-15, 32.65,-14, 32.8,-12, 32.95,-13, 33.1,-10, 33.25,-11, 33.4,-9, 33.6,-11, 33.75,-10, 33.9,-12, 34.05,-11, 34.2,-14, 34.4,-15, 34.55,-16, 34.7,-19, 34.85,-20, 35.0,-21];
const b371 = [5.0,-11, 5.02,4, 5.06,-18, 5.15,-6, 5.25,-2, 5.33,-4, 5.45,2, 5.55,-5, 5.65,-2, 5.75,-6, 5.85,3, 5.95,-1, 6.05,5, 6.17,7, 6.28,0, 6.38,-2, 6.5,2, 6.6,-6, 6.7,-11, 6.85,-9, 7.0,-15, 7.12,-20, 7.23,-33, 7.34,-15, 7.44,-11, 7.55,-6, 7.7,-9, 7.86,-4, 8.0,-7, 8.15,-2, 8.28,0, 8.4,-4, 8.55,-2, 8.7,-6, 8.85,-3, 9.0,-1, 9.12,-2, 9.25,-6, 9.4,-4, 9.54,-8, 9.7,-3, 9.85,-6, 9.96,-4, 10.1,-1, 10.25,2, 10.38,0, 10.5,-3, 10.65,-5, 10.8,-6, 10.95,-8, 11.1,-6, 11.23,-11, 11.4,-8, 11.55,-10, 11.65,-8, 11.8,-12, 11.95,-9, 12.07,-11, 12.2,-12, 12.35,-14, 12.5,-12, 12.6,-15, 12.75,-14, 12.9,-17, 13.02,-19, 13.15,-15, 13.33,-13, 13.5,-9, 13.65,-6, 13.8,0, 13.95,4, 14.05,7, 14.18,16, 14.3,22, 14.45,28, 14.6,34, 14.75,42, 14.9,51, 15.05,60, 15.22,73, 15.35,80, 15.45,87, 15.55,83, 15.64,86, 15.75,80, 15.85,78, 15.95,82, 16.05,79, 16.13,80, 16.25,72, 16.38,65, 16.5,58, 16.6,52, 16.7,47, 16.85,41, 17.02,34, 17.15,27, 17.3,20, 17.44,12, 17.6,6, 17.75,2, 17.86,-2, 18.0,-4, 18.15,-6, 18.28,-6, 18.4,-9, 18.55,-8, 18.7,-11, 18.85,-10, 19.0,-12, 19.15,-11, 19.33,-13, 19.5,-9, 19.62,-10, 19.75,-8, 19.9,-10, 20.05,-6, 20.17,-6, 20.3,-9, 20.45,-8, 20.6,-10, 20.8,-11, 20.95,-8, 21.1,-9, 21.22,-6, 21.35,-8, 21.5,-5, 21.64,-4, 21.8,-5, 21.95,-2, 22.07,0, 22.2,-1, 22.38,3, 22.5,2,
  23.65,0, 23.8,4, 23.96,3, 24.1,1, 24.25,-2, 24.39,-2, 24.55,-4, 24.7,-3, 24.85,-6, 25.0,-5, 25.1,-6, 25.25,-8, 25.4,-7, 25.55,-10, 25.66,-11, 25.8,-10, 25.95,-12, 26.1,-11, 26.3,-13, 26.45,-12, 26.6,-14, 26.75,-13, 26.9,-15, 27.05,-14, 27.2,-16, 27.35,-15, 27.55,-17, 27.7,-18, 27.85,-21, 27.96,-24, 28.08,-23, 28.17,-26, 28.3,-18, 28.48,-11, 28.65,-4, 28.8,0, 28.95,2, 29.1,1, 29.23,3, 29.4,2, 29.55,6, 29.65,4, 29.75,7, 29.9,3, 30.07,0, 30.25,-2, 30.4,-4, 30.55,-6, 30.7,-8, 30.85,-9, 31.0,-11, 31.15,-13, 31.33,-15, 31.5,-16, 31.65,-15, 31.75,-17, 31.9,-14, 32.05,-13, 32.2,-14, 32.4,-13, 32.55,-12, 32.7,-13, 32.85,-11, 33.0,-11, 33.15,-12, 33.3,-10, 33.45,-11, 33.6,-10, 33.75,-12, 33.9,-9, 34.05,-10, 34.2,-8, 34.35,-9, 34.5,-8, 34.65,-10, 34.8,-8, 35.0,-8];
const b458 = [5.0,-13, 5.02,4, 5.06,-22, 5.15,-8, 5.25,-4, 5.35,0, 5.45,-3, 5.55,2, 5.65,4, 5.75,1, 5.85,5, 5.95,3, 6.05,7, 6.15,4, 6.25,2, 6.35,-2, 6.5,-6, 6.65,-11, 6.8,-18, 6.95,-16, 7.1,-22, 7.22,-35, 7.32,-18, 7.45,-13, 7.6,-9, 7.75,-11, 7.9,-8, 8.05,-7, 8.2,-10, 8.35,-4, 8.5,-6, 8.65,-7, 8.8,-4, 8.95,-5, 9.1,-8, 9.25,-9, 9.4,-6, 9.55,-8, 9.7,-5, 9.85,-7, 10.0,-2, 10.15,-4, 10.3,2, 10.4,4, 10.5,1, 10.65,-2, 10.8,-5, 10.95,-7, 11.1,-9, 11.25,-8, 11.4,-11, 11.55,-12, 11.7,-9, 11.85,-10, 12.0,-13, 12.15,-14, 12.3,-15, 12.45,-13, 12.6,-17, 12.75,-18, 12.9,-16, 13.05,-15, 13.2,-18, 13.35,-20, 13.5,-17, 13.65,-15, 13.8,-10, 13.95,-6, 14.1,0, 14.25,6, 14.4,12, 14.55,18, 14.7,24, 14.85,33, 15.0,42, 15.15,52, 15.3,62, 15.45,74, 15.6,86, 15.75,97, 15.85,101, 15.92,104, 16.0,100, 16.1,98, 16.18,93, 16.3,82, 16.4,75, 16.5,66, 16.6,58, 16.75,46, 16.9,38, 17.05,30, 17.2,22, 17.35,15, 17.5,10, 17.65,5, 17.8,1, 17.95,-2, 18.1,-6, 18.25,-9, 18.4,-8, 18.55,-11, 18.7,-12, 18.85,-14, 19.0,-16, 19.12,-22, 19.25,-14, 19.4,-12, 19.55,-13, 19.7,-9, 19.85,-11, 20.0,-8, 20.15,-9, 20.3,-11, 20.45,-10, 20.6,-12, 20.8,-11, 20.95,-9, 21.1,-10, 21.25,-7, 21.4,-8, 21.55,-6, 21.7,-8, 21.85,-5, 22.0,-6, 22.15,-3, 22.3,-4, 22.45,0, 22.55,2, 22.7,4,
  23.96,-13, 24.05,-3, 24.17,2, 24.3,-2, 24.45,0, 24.6,-4, 24.8,-2, 24.95,-6, 25.1,-5, 25.25,-8, 25.43,-9, 25.6,-7, 25.75,-10, 25.9,-9, 26.06,-11, 26.2,-10, 26.4,-12, 26.6,-13, 26.75,-11, 26.9,-14, 27.05,-13, 27.2,-15, 27.35,-14, 27.5,-13, 27.65,-15, 27.8,-12, 27.96,-13, 28.1,-11, 28.18,24, 28.25,-8, 28.38,-18, 28.55,-12, 28.7,-6, 28.85,-4, 29.0,-2, 29.15,0, 29.3,1, 29.45,2, 29.6,0, 29.75,2, 29.9,-1, 30.07,-2, 30.25,-3, 30.4,-5, 30.55,-6, 30.7,-7, 30.85,-9, 31.0,-12, 31.15,-13, 31.33,-16, 31.5,-16, 31.65,-18, 31.8,-17, 31.95,-15, 32.1,-12, 32.25,-14, 32.4,-11, 32.55,-13, 32.7,-12, 32.85,-11, 33.0,-11, 33.15,-13, 33.3,-12, 33.45,-14, 33.6,-13, 33.75,-15, 33.9,-14, 34.05,-16, 34.2,-15, 34.35,-17, 34.5,-16, 34.65,-19, 34.8,-21, 35.0,-24];
const b530 = [5.0,-16, 5.02,0, 5.07,-20, 5.15,-10, 5.25,-8, 5.33,-25, 5.42,-5, 5.5,6, 5.6,15, 5.7,24, 5.8,20, 5.9,28, 6.0,25, 6.1,31, 6.2,26, 6.3,24, 6.4,10, 6.5,-3, 6.6,-15, 6.7,-23, 6.8,-20, 6.9,-29, 7.05,-25, 7.2,-20, 7.35,-10, 7.5,-3, 7.65,-6, 7.8,-7, 7.95,-4, 8.1,-9, 8.25,-6, 8.4,-5, 8.55,-8, 8.7,-9, 8.85,-5, 9.0,-7, 9.15,-4, 9.3,-5, 9.45,-8, 9.6,-9, 9.75,-6, 9.9,-7, 10.05,-3, 10.2,-5, 10.35,-2, 10.5,-3, 10.65,1, 10.8,2, 10.92,-6, 11.02,-11, 11.12,20, 11.22,140, 11.32,200, 11.37,205, 11.45,120, 11.52,0, 11.6,-16, 11.75,-17, 11.9,-19, 12.05,-15, 12.2,-17, 12.35,-16, 12.5,-19, 12.65,-22, 12.8,-20, 12.95,-18, 13.1,-21, 13.25,-27, 13.4,-22, 13.55,-24, 13.7,-20, 13.85,-21, 14.0,-18, 14.15,-19, 14.3,-16, 14.45,-14, 14.6,-12, 14.75,-7, 14.9,2, 15.0,11, 15.1,15, 15.2,24, 15.3,30, 15.4,37, 15.55,60, 15.7,110, 15.85,190, 15.96,235, 16.0,239, 16.08,210, 16.2,120, 16.32,45, 16.45,2, 16.55,-12, 16.7,-16, 16.85,-20, 17.0,-18, 17.15,-19, 17.3,-21, 17.45,-24, 17.6,-20, 17.75,-22, 17.9,-27, 18.05,-20, 18.2,-18, 18.35,-19, 18.5,-16, 18.65,-17, 18.8,-13, 18.95,-14, 19.1,-11, 19.25,-12, 19.4,-9, 19.55,-8, 19.7,-6, 19.85,-5, 20.0,-8, 20.15,-9, 20.3,-6, 20.45,-8, 20.6,-7, 20.75,-9, 20.9,-8, 21.05,-10, 21.2,-9, 21.35,-12, 21.5,-10, 21.65,-9, 21.8,-10, 21.95,-12, 22.1,-13, 22.25,-14, 22.4,-10, 22.47,5, 22.52,13,
  23.72,-12, 23.85,-7, 24.0,-4, 24.1,-3, 24.25,-5, 24.4,-7, 24.5,-7, 24.65,-9, 24.8,-8, 24.99,-9, 25.15,-3, 25.3,8, 25.42,18, 25.49,22, 25.6,10, 25.78,-3, 25.9,-12, 26.05,-17, 26.17,-20, 26.3,-18, 26.45,-21, 26.6,-19, 26.76,-20, 26.9,-22, 27.05,-21, 27.25,-25, 27.4,-15, 27.55,-5, 27.7,10, 27.82,18, 27.9,19, 28.0,8, 28.18,-12, 28.3,-18, 28.43,-23, 28.6,-15, 28.83,-7, 29.0,-4, 29.2,-2, 29.42,-1, 29.6,0, 29.75,1, 29.91,2, 30.05,3, 30.2,2, 30.4,4, 30.55,0, 30.7,-3, 30.89,-3, 31.05,-10, 31.2,-13, 31.38,-16, 31.55,-22, 31.68,-27, 31.8,-20, 31.97,-16, 32.1,-5, 32.25,2, 32.36,6, 32.5,-2, 32.66,-7, 32.8,-13, 32.95,-15, 33.15,-16, 33.3,-13, 33.45,-15, 33.64,-12, 33.8,-11, 33.95,-9, 34.1,-6, 34.2,-5, 34.33,-5, 34.45,-8, 34.62,-16, 34.8,-18, 35.0,-20];
const b597 = [5.0,-14, 5.02,-4, 5.1,-10, 5.25,-8, 5.4,-3, 5.5,0, 5.6,3, 5.7,5, 5.8,8, 5.9,6, 6.0,10, 6.1,15, 6.2,9, 6.3,6, 6.4,0, 6.5,-1, 6.6,-8, 6.7,-14, 6.8,-22, 6.9,-30, 7.0,-26, 7.1,-21, 7.25,-14, 7.4,-11, 7.55,-9, 7.7,-10, 7.85,-7, 8.0,-8, 8.15,-5, 8.3,-6, 8.45,-2, 8.6,-5, 8.75,-7, 8.9,-3, 9.05,-5, 9.2,-9, 9.35,-7, 9.5,-10, 9.65,-5, 9.8,-7, 9.95,-3, 10.1,-4, 10.25,-1, 10.4,2, 10.5,4, 10.65,0, 10.8,-1, 10.95,-5, 11.05,-6, 11.15,20, 11.25,130, 11.35,210, 11.41,220, 11.48,150, 11.56,20, 11.65,-10, 11.8,-13, 11.95,-16, 12.1,-14, 12.25,-17, 12.4,-19, 12.55,-18, 12.7,-21, 12.85,-19, 13.0,-20, 13.15,-18, 13.3,-22, 13.45,-23, 13.6,-20, 13.75,-21, 13.9,-18, 14.05,-19, 14.2,-16, 14.35,-17, 14.5,-13, 14.65,-12, 14.8,-8, 14.95,0, 15.1,8, 15.2,17, 15.35,30, 15.45,38, 15.6,57, 15.75,100, 15.9,180, 16.02,250, 16.1,255, 16.2,180, 16.3,90, 16.42,20, 16.55,-2, 16.7,-10, 16.85,-14, 17.0,-19, 17.15,-20, 17.3,-22, 17.45,-25, 17.6,-21, 17.75,-19, 17.9,-21, 18.05,-20, 18.2,-17, 18.35,-18, 18.5,-15, 18.65,-14, 18.8,-12, 18.95,-13, 19.1,-10, 19.25,-11, 19.4,-8, 19.55,-8, 19.7,-10, 19.85,-11, 20.0,-12, 20.15,-9, 20.3,-8, 20.45,-7, 20.6,-9, 20.75,-10, 20.9,-8, 21.05,-11, 21.2,-12, 21.35,-10, 21.5,-9, 21.65,-12, 21.8,-13, 21.95,-14, 22.1,-15, 22.25,-16, 22.35,-12, 22.43,10, 22.5,40, 22.56,68,
  23.9,-10, 24.0,-8, 24.1,-4, 24.2,-3, 24.35,-7, 24.5,-5, 24.65,-8, 24.8,-6, 24.95,-4, 25.1,-3, 25.25,5, 25.38,20, 25.49,26, 25.6,15, 25.75,-2, 25.9,-15, 26.05,-19, 26.2,-17, 26.35,-20, 26.5,-18, 26.65,-21, 26.8,-20, 26.95,-24, 27.1,-22, 27.25,-27, 27.4,-20, 27.55,-5, 27.7,12, 27.85,22, 27.94,23, 28.05,10, 28.2,-12, 28.35,-25, 28.45,-30, 28.6,-18, 28.75,-12, 28.9,-9, 29.05,-4, 29.2,-3, 29.35,-1, 29.5,-1, 29.65,-3, 29.8,0, 29.95,-2, 30.1,2, 30.25,4, 30.4,3, 30.5,6, 30.65,1, 30.8,-3, 30.95,-6, 31.1,-10, 31.25,-14, 31.4,-19, 31.55,-18, 31.7,-22, 31.87,-23, 32.0,-12, 32.15,-3, 32.3,6, 32.38,10, 32.5,2, 32.66,-12, 32.8,-14, 32.95,-12, 33.1,-15, 33.25,-14, 33.4,-12, 33.55,-13, 33.7,-11, 33.85,-12, 34.0,-9, 34.15,-7, 34.3,-5, 34.43,-5, 34.55,-8, 34.72,-19, 34.85,-21, 35.0,-25];
const b665 = [5.0,-8, 5.02,5, 5.06,-14, 5.2,-13, 5.3,-6, 5.4,-2, 5.5,-5, 5.6,0, 5.75,2, 5.9,5, 6.0,2, 6.1,0, 6.2,4, 6.3,5, 6.4,-2, 6.5,-6, 6.65,-12, 6.8,-17, 6.95,-25, 7.05,-28, 7.15,-22, 7.3,-15, 7.45,-11, 7.6,-8, 7.75,-6, 7.9,-9, 8.05,-4, 8.2,-6, 8.35,-9, 8.5,-6, 8.65,-4, 8.8,-9, 8.95,-11, 9.1,-6, 9.25,-8, 9.4,-12, 9.55,-13, 9.7,-17, 9.85,-22, 10.0,-14, 10.15,-10, 10.3,-6, 10.45,3, 10.55,5, 10.7,-4, 10.85,-7, 11.0,-9, 11.12,10, 11.25,120, 11.35,190, 11.42,193, 11.5,100, 11.58,-2, 11.7,-13, 11.85,-15, 12.0,-17, 12.15,-15, 12.3,-19, 12.45,-20, 12.6,-18, 12.75,-22, 12.9,-21, 13.05,-24, 13.2,-23, 13.35,-26, 13.5,-24, 13.65,-21, 13.8,-24, 13.95,-20, 14.1,-22, 14.25,-19, 14.4,-15, 14.55,-13, 14.7,-8, 14.85,-4, 15.0,2, 15.15,6, 15.3,18, 15.45,28, 15.55,35, 15.7,60, 15.85,120, 15.97,200, 16.06,227, 16.16,170, 16.28,70, 16.4,5, 16.55,-6, 16.7,-12, 16.85,-17, 17.0,-18, 17.15,-22, 17.3,-21, 17.45,-24, 17.6,-22, 17.75,-24, 17.9,-26, 18.05,-22, 18.2,-22, 18.35,-20, 18.5,-19, 18.65,-20, 18.8,-17, 18.95,-15, 19.1,-16, 19.25,-13, 19.4,-13, 19.55,-12, 19.7,-11, 19.85,-10, 20.0,-9, 20.15,-8, 20.3,-10, 20.45,-9, 20.6,-11, 20.75,-10, 20.9,-13, 21.05,-12, 21.2,-11, 21.35,-13, 21.5,-11, 21.65,-14, 21.8,-13, 21.95,-15, 22.1,-15, 22.25,-17, 22.38,-11, 22.46,10, 22.52,35, 22.56,45,
  23.76,-6, 23.86,-4, 24.0,-2, 24.15,-6, 24.3,-3, 24.45,-7, 24.6,-5, 24.75,-9, 24.9,-8, 25.05,-5, 25.2,-4, 25.32,5, 25.45,18, 25.52,20, 25.62,10, 25.75,-6, 25.9,-13, 26.05,-15, 26.2,-17, 26.35,-15, 26.5,-18, 26.65,-16, 26.8,-19, 26.95,-18, 27.1,-21, 27.25,-20, 27.4,-25, 27.55,-15, 27.7,0, 27.82,13, 27.9,14, 28.0,5, 28.15,-12, 28.3,-22, 28.45,-18, 28.6,-10, 28.75,-7, 28.9,-3, 29.05,-4, 29.2,-1, 29.35,1, 29.5,0, 29.65,2, 29.8,1, 29.95,3, 30.1,0, 30.25,-1, 30.4,-4, 30.55,-6, 30.7,-8, 30.85,-12, 31.0,-15, 31.15,-16, 31.3,-18, 31.45,-19, 31.6,-20, 31.75,-19, 31.9,-16, 32.05,-10, 32.2,0, 32.36,5, 32.5,-2, 32.65,-13, 32.8,-11, 32.95,-13, 33.1,-12, 33.25,-13, 33.4,-11, 33.55,-13, 33.7,-12, 33.85,-13, 34.0,-10, 34.15,-9, 34.3,-6, 34.4,-5, 34.5,-8, 34.62,-11, 34.8,-14, 35.0,-19];
const b708 = [5.0,-7, 5.02,7, 5.06,-20, 5.15,-18, 5.3,-2, 5.45,-7, 5.55,-3, 5.7,7, 5.8,4, 5.9,9, 6.0,5, 6.1,4, 6.2,8, 6.3,2, 6.4,0, 6.5,-2, 6.6,-6, 6.75,-11, 6.9,-24, 7.05,-31, 7.15,-20, 7.3,-11, 7.45,-7, 7.6,-2, 7.75,-8, 7.9,-4, 8.05,-9, 8.2,-6, 8.35,-2, 8.5,-2, 8.65,-7, 8.8,-9, 8.95,-5, 9.1,-7, 9.25,-10, 9.4,-11, 9.55,-6, 9.7,-9, 9.85,-13, 10.0,-13, 10.15,-9, 10.3,-11, 10.45,0, 10.55,2, 10.7,-4, 10.85,0, 11.0,-2, 11.1,11, 11.2,100, 11.3,200, 11.38,226, 11.46,170, 11.55,5, 11.68,-7, 11.8,-11, 11.95,-13, 12.1,-13, 12.25,-17, 12.4,-18, 12.55,-15, 12.7,-16, 12.85,-20, 13.0,-20, 13.15,-17, 13.3,-18, 13.45,-22, 13.6,-22, 13.75,-20, 13.9,-24, 14.05,-20, 14.2,-22, 14.35,-18, 14.5,-16, 14.65,-11, 14.8,-12, 14.95,-4, 15.1,0, 15.25,12, 15.4,29, 15.55,38, 15.65,46, 15.8,90, 15.92,180, 16.04,261, 16.14,200, 16.25,100, 16.4,11, 16.55,2, 16.7,-2, 16.85,-9, 17.0,-15, 17.15,-18, 17.3,-20, 17.45,-22, 17.6,-20, 17.75,-24, 17.9,-24, 18.05,-18, 18.2,-20, 18.35,-16, 18.5,-18, 18.65,-13, 18.8,-15, 18.95,-11, 19.1,-13, 19.25,-9, 19.4,-10, 19.55,-7, 19.7,-6, 19.85,-3, 20.0,-4, 20.15,-2, 20.3,-3, 20.45,-5, 20.6,-4, 20.75,-7, 20.9,-6, 21.05,-9, 21.2,-8, 21.35,-11, 21.5,-10, 21.65,-12, 21.8,-11, 21.95,-13, 22.1,-12, 22.25,-9, 22.38,-7, 22.45,5, 22.5,22,
  23.72,-20, 23.86,-7, 24.0,-4, 24.15,-2, 24.3,0, 24.45,-4, 24.6,-7, 24.8,-11, 24.95,-6, 25.1,-2, 25.25,10, 25.38,24, 25.5,15, 25.6,-2, 25.75,-15, 25.9,-20, 26.05,-24, 26.2,-19, 26.35,-22, 26.5,-18, 26.65,-20, 26.8,-24, 26.95,-22, 27.1,-27, 27.25,-24, 27.4,-18, 27.55,-5, 27.68,15, 27.78,27, 27.88,15, 28.0,-7, 28.15,-25, 28.3,-31, 28.45,-20, 28.6,-8, 28.75,-4, 28.9,-2, 29.05,-1, 29.2,0, 29.35,2, 29.5,3, 29.65,4, 29.8,3, 29.95,6, 30.1,5, 30.25,7, 30.4,5, 30.55,3, 30.7,0, 30.85,-2, 31.0,-6, 31.15,-12, 31.3,-15, 31.45,-20, 31.6,-24, 31.72,-27, 31.85,-18, 32.0,-11, 32.12,2, 32.2,7, 32.3,2, 32.45,-13, 32.6,-16, 32.75,-18, 32.9,-19, 33.05,-21, 33.2,-20, 33.35,-17, 33.5,-19, 33.65,-16, 33.8,-15, 33.95,-9, 34.1,-6, 34.2,-4, 34.35,-8, 34.5,-12, 34.65,-14, 34.8,-18, 35.0,-24];

const curvesA = [a44, a148, a227, a295, a359, a436, a492, a561, a629, a693];
const curvesB = [b40, b138, b221, b294, b371, b458, b530, b597, b665, b708];

// detector gap (2theta)
const gapA = [22.75, 23.8];
const gapB = [22.6, 23.72];

// reflection labels: text, left edge (2theta), height (intensity units)
const hklText = ['(100)', '(110)', '(200)', '(210)', '(211)', '(220)'];
const hklXA = [11.55, 16.16, 20.15, 24.45, 26.82, 31.31];
const hklXB = [11.5, 16.11, 20.13, 24.48, 26.84, 31.28];
const hklY = [1109, 1109, 997, 941, 969, 915];

// impurity markers on the 492 °C pattern
const starX = [5.35, 6.23, 7.06];
const starY = 721;

const xTickLabels = [5, 10, 15, 20, 25, 30, 35];

const TOP = 13;
const BOTTOM = 1060;
const FONT = '"DejaVu Sans", sans-serif';
const FS = 21;

const toPairs = (flat: number[]) => {
  const out: [number, number][] = [];
  for (let k = 0; k < flat.length; k += 2) out.push([flat[k], flat[k + 1]]);
  return out;
};

const panels = [
  { left: 42, right: 553, curves: curvesA, temps: tempsA, gap: gapA, hklX: hklXA, title: '(a) KNN-Ox' },
  { left: 579, right: 1088, curves: curvesB, temps: tempsB, gap: gapB, hklX: hklXB, title: '(b) KNN-MA' },
];

export default function App() {
  const svgRef = useRef<SVGSVGElement>(null);

  useEffect(() => {
    const svg = d3.select(svgRef.current);
    svg.selectAll('*').remove();

    const y = d3.scaleLinear().domain([-70, 1319]).range([BOTTOM, TOP]);
    const color = (i: number) => d3.interpolateRgb('#00ffff', '#ff00ff')(i / 9);

    panels.forEach((p, pi) => {
      const x = d3.scaleLinear().domain([5, 35]).range([p.left, p.right]);
      const g = svg.append('g');

      const clipId = `clip-${pi}`;
      g.append('clipPath').attr('id', clipId)
        .append('rect')
        .attr('x', p.left).attr('y', TOP)
        .attr('width', p.right - p.left).attr('height', BOTTOM - TOP);

      const plot = g.append('g').attr('clip-path', `url(#${clipId})`);

      p.curves.forEach((flat, i) => {
        const line = d3.line<[number, number]>()
          .x(d => x(d[0]))
          .y(d => y(d[1] + i * 100));
        plot.append('path')
          .attr('d', line(toPairs(flat)))
          .attr('fill', 'none')
          .attr('stroke', color(i))
          .attr('stroke-width', 2.3)
          .attr('stroke-linejoin', 'round');
      });

      // gap band sits over the data
      plot.append('rect')
        .attr('x', x(p.gap[0]))
        .attr('y', TOP)
        .attr('width', x(p.gap[1]) - x(p.gap[0]))
        .attr('height', BOTTOM - TOP)
        .attr('fill', '#bebebe')
        .attr('stroke', '#a6a6a6')
        .attr('stroke-width', 1);

      if (pi === 0) {
        const star = d3.symbol().type(d3.symbolStar).size(66);
        plot.selectAll('.star')
          .data(starX)
          .enter().append('path')
          .attr('d', star() as string)
          .attr('transform', d => `translate(${x(d)},${y(starY)})`)
          .attr('fill', '#000');
      }

      // temperature labels
      g.selectAll('.temp')
        .data(p.temps)
        .enter().append('text')
        .attr('x', x(30.5))
        .attr('y', (_, i) => y(i * 100 - 56))
        .attr('font-family', FONT)
        .attr('font-size', FS)
        .attr('fill', '#000')
        .text(d => `${d} °C`);

      // reflection labels
      hklText.forEach((t, k) => {
        g.append('text')
          .attr('x', x(p.hklX[k]))
          .attr('y', y(hklY[k]))
          .attr('font-family', FONT)
          .attr('font-size', FS)
          .attr('fill', '#000')
          .text(t);
      });

      g.append('text')
        .attr('x', p.left + 15)
        .attr('y', 66)
        .attr('font-family', FONT)
        .attr('font-size', FS)
        .attr('fill', '#000')
        .text(p.title);

      // ticks, inward on top and bottom
      const minor = x.ticks(30).filter(t => !xTickLabels.includes(t));
      const tickG = g.append('g').attr('stroke', '#000').attr('stroke-width', 1.2);
      xTickLabels.forEach(t => {
        tickG.append('line').attr('x1', x(t)).attr('x2', x(t)).attr('y1', BOTTOM).attr('y2', BOTTOM - 7);
        tickG.append('line').attr('x1', x(t)).attr('x2', x(t)).attr('y1', TOP).attr('y2', TOP + 7);
      });
      minor.forEach(t => {
        tickG.append('line').attr('x1', x(t)).attr('x2', x(t)).attr('y1', BOTTOM).attr('y2', BOTTOM - 4);
        tickG.append('line').attr('x1', x(t)).attr('x2', x(t)).attr('y1', TOP).attr('y2', TOP + 4);
      });

      g.selectAll('.tick-label')
        .data(xTickLabels)
        .enter().append('text')
        .attr('x', d => x(d))
        .attr('y', 1084)
        .attr('text-anchor', 'middle')
        .attr('font-family', FONT)
        .attr('font-size', FS)
        .attr('fill', '#000')
        .text(d => d);

      const xl = g.append('text')
        .attr('x', (p.left + p.right) / 2)
        .attr('y', 1112)
        .attr('text-anchor', 'middle')
        .attr('font-family', FONT)
        .attr('font-size', FS)
        .attr('fill', '#000');
      xl.append('tspan').text('2');
      xl.append('tspan').attr('font-style', 'italic').text('θ');
      xl.append('tspan').text(' [ ° ]');

      g.append('rect')
        .attr('x', p.left).attr('y', TOP)
        .attr('width', p.right - p.left).attr('height', BOTTOM - TOP)
        .attr('fill', 'none')
        .attr('stroke', '#000')
        .attr('stroke-width', 1.6);
    });

    svg.append('text')
      .attr('transform', `translate(29,${(TOP + BOTTOM) / 2}) rotate(-90)`)
      .attr('text-anchor', 'middle')
      .attr('font-family', FONT)
      .attr('font-size', FS)
      .attr('fill', '#000')
      .text('Intensity [a.u.]');
  }, []);

  return (
    <svg
      ref={svgRef}
      width={1102}
      height={1116}
      style={{ position: 'absolute', left: 0, top: 0, background: '#fff' }}
    />
  );
}
